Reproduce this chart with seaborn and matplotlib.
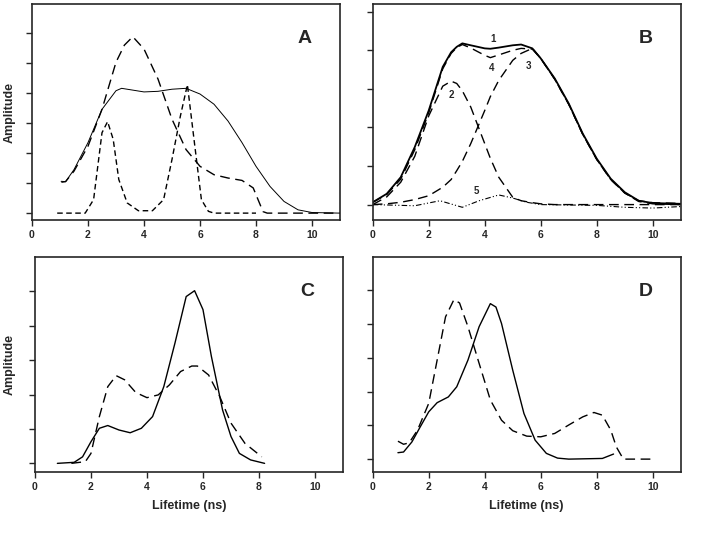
import numpy as np
import pandas as pd
import matplotlib
matplotlib.use("Agg")
import matplotlib.pyplot as plt
import seaborn as sns

# Panel A
a_solid_x = [1.04, 1.2, 1.5, 2.0, 2.5, 3.0, 3.2, 3.6, 4.0, 4.5, 5.0, 5.5, 6.0, 6.5, 7.0, 7.5, 8.0, 8.5, 9.0, 9.5, 10.0, 11.0]
a_solid_y = [1.06, 1.05, 1.45, 2.35, 3.46, 4.08, 4.16, 4.1, 4.04, 4.06, 4.13, 4.16, 3.97, 3.63, 3.07, 2.35, 1.56, 0.89, 0.39, 0.11, 0.02, 0.0]
a_long_x = [1.05, 1.2, 1.5, 2.0, 2.5, 3.0, 3.3, 3.6, 4.0, 4.5, 5.0, 5.5, 6.0, 6.5, 7.0, 7.5, 7.9, 8.25, 8.4, 11.0]
a_long_y = [1.03, 1.05, 1.4, 2.23, 3.46, 5.03, 5.6, 5.88, 5.47, 4.47, 3.13, 2.12, 1.56, 1.28, 1.17, 1.09, 0.84, 0.05, 0.0, 0.0]
a_short_x = [0.9, 1.9, 2.2, 2.5, 2.7, 2.9, 3.1, 3.4, 3.8, 4.3, 4.7, 5.0, 5.3, 5.55, 5.8, 6.05, 6.3, 6.5, 8.0]
a_short_y = [0.0, 0.0, 0.45, 2.68, 3.05, 2.46, 1.12, 0.34, 0.08, 0.08, 0.45, 1.79, 3.24, 4.28, 2.35, 0.45, 0.06, 0.0, 0.0]

# Panel B
b_x = [0.0, 0.5, 1.0, 1.5, 2.0, 2.5, 2.8, 3.0, 3.2, 3.5, 4.0, 4.2, 4.5, 5.0, 5.3, 5.7, 6.0, 6.5, 7.0, 7.5, 8.0, 8.5, 9.0, 9.5, 10.0, 11.0]
b_sum_y = [0.06, 0.28, 0.71, 1.49, 2.44, 3.57, 3.95, 4.09, 4.18, 4.13, 4.05, 4.04, 4.07, 4.13, 4.15, 4.05, 3.79, 3.27, 2.62, 1.84, 1.19, 0.67, 0.32, 0.10, 0.04, 0.02]
b_fit_y = [0.06, 0.26, 0.66, 1.42, 2.38, 3.52, 3.92, 4.07, 4.15, 4.06, 3.87, 3.81, 3.88, 4.0, 4.05, 4.03, 3.79, 3.25, 2.6, 1.82, 1.17, 0.65, 0.3, 0.08, 0.02, 0.0]
b_c2_y = [0.0, 0.2, 0.58, 1.25, 2.3, 3.07, 3.2, 3.14, 2.95, 2.53, 1.58, 1.2, 0.71, 0.19, 0.1, 0.05, 0.02, 0.0, 0.0, 0.0, 0.0, 0.0, 0.0, 0.0, 0.0, 0.0]
b_c3_y = [0.0, 0.02, 0.06, 0.13, 0.23, 0.45, 0.65, 0.88, 1.12, 1.58, 2.44, 2.8, 3.22, 3.74, 3.92, 4.05, 3.79, 3.25, 2.6, 1.82, 1.17, 0.65, 0.3, 0.1, 0.05, 0.03]
b_c5_x = [0.0, 1.5, 2.4, 3.2, 3.8, 4.5, 5.0, 5.5, 6.0, 8.0, 9.0, 10.0, 11.0]
b_c5_y = [0.0, -0.03, 0.1, -0.07, 0.1, 0.25, 0.17, 0.06, 0.0, -0.02, -0.07, -0.09, -0.05]
b_labels = ["1", "4", "3", "2", "5"]
b_label_x = [4.3, 4.26, 5.55, 2.8, 3.69]
b_label_y = [4.3, 3.54, 3.59, 2.85, 0.35]

# Panel C
c_solid_x = [0.8, 1.4, 1.7, 2.0, 2.3, 2.6, 3.0, 3.4, 3.8, 4.2, 4.6, 5.0, 5.4, 5.7, 6.0, 6.3, 6.7, 7.0, 7.3, 7.7, 8.2]
c_solid_y = [0.0, 0.03, 0.19, 0.63, 1.02, 1.1, 0.97, 0.89, 1.02, 1.36, 2.23, 3.5, 4.85, 5.02, 4.47, 3.11, 1.55, 0.78, 0.29, 0.1, 0.0]
c_dash_x = [1.3, 1.8, 2.0, 2.3, 2.6, 2.9, 3.2, 3.6, 4.0, 4.4, 4.8, 5.2, 5.6, 5.8, 6.2, 6.6, 7.0, 7.5, 8.1]
c_dash_y = [0.0, 0.05, 0.29, 1.36, 2.23, 2.55, 2.43, 2.06, 1.91, 1.99, 2.28, 2.67, 2.83, 2.83, 2.57, 1.94, 1.17, 0.58, 0.19]

# Panel D
d_solid_x = [0.9, 1.1, 1.4, 1.7, 2.0, 2.3, 2.7, 3.0, 3.4, 3.8, 4.2, 4.4, 4.6, 5.0, 5.4, 5.8, 6.2, 6.6, 7.0, 8.2, 8.6]
d_solid_y = [0.19, 0.21, 0.51, 0.96, 1.4, 1.67, 1.84, 2.14, 2.93, 3.92, 4.6, 4.5, 4.01, 2.63, 1.35, 0.56, 0.17, 0.03, 0.0, 0.02, 0.15]
d_dash_x = [0.9, 1.1, 1.3, 1.6, 2.0, 2.3, 2.6, 2.9, 3.1, 3.4, 3.8, 4.2, 4.6, 5.0, 5.5, 6.0, 6.5, 7.0, 7.5, 7.9, 8.2, 8.5, 8.7, 8.95, 10.0]
d_dash_y = [0.53, 0.44, 0.48, 0.86, 1.65, 2.93, 4.21, 4.72, 4.62, 3.92, 2.83, 1.75, 1.15, 0.84, 0.68, 0.66, 0.76, 1.01, 1.25, 1.38, 1.3, 0.86, 0.36, 0.0, 0.0]

sns.set_style("ticks")
plt.rcParams['font.family'] = ['Liberation Sans', 'DejaVu Sans']

fig = plt.figure(figsize=(7.27, 5.43), dpi=100)
axA = fig.add_axes([0.044, 0.5948, 0.4237, 0.3978])
axB = fig.add_axes([0.5127, 0.5948, 0.4237, 0.3978])
axC = fig.add_axes([0.0481, 0.1302, 0.4237, 0.3965])
axD = fig.add_axes([0.5127, 0.1302, 0.4237, 0.3965])

LONG = (0, (7, 4))
SHORT = (0, (4, 2.5))


def curve(ax, x, y, ls, lw=1.0):
    sns.lineplot(x=x, y=y, ax=ax, color="black", linewidth=lw, sort=False)
    ax.lines[-1].set_linestyle(ls)


curve(axA, a_solid_x, a_solid_y, "-", 0.7)
curve(axA, a_long_x, a_long_y, LONG)
curve(axA, a_short_x, a_short_y, SHORT)

curve(axB, b_x, b_sum_y, "-", 1.3)
curve(axB, b_x, b_fit_y, LONG)
curve(axB, b_x, b_c2_y, LONG)
curve(axB, b_x, b_c3_y, LONG)
curve(axB, b_c5_x, b_c5_y, (0, (5, 2, 1, 2, 1, 2)), 0.8)
for t, lx, ly in zip(b_labels, b_label_x, b_label_y):
    axB.text(lx, ly, t, fontsize=7, fontweight="bold", ha="center", va="center")

curve(axC, c_solid_x, c_solid_y, "-", 1.0)
curve(axC, c_dash_x, c_dash_y, LONG)

curve(axD, d_solid_x, d_solid_y, "-", 1.0)
curve(axD, d_dash_x, d_dash_y, LONG)

limits = {axA: (-0.23, 6.97, 7), axB: (-0.4, 5.2, 6), axC: (-0.26, 6.0, 6), axD: (-0.39, 5.98, 6)}
letters = {axA: "A", axB: "B", axC: "C", axD: "D"}
for ax, (lo, hi, n) in limits.items():
    ax.set_xlim(0, 11)
    ax.set_ylim(lo, hi)
    ax.set_xticks([0, 2, 4, 6, 8, 10])
    ax.set_xticklabels(["0", "2", "4", "6", "8", "10"], fontsize=7.5, fontweight="bold")
    ax.set_yticks(range(n))
    ax.set_yticklabels([])
    ax.tick_params(direction="out", length=4, width=1, pad=3)
    for s in ax.spines.values():
        s.set_linewidth(1.2)
        s.set_visible(True)
    ax.text(0.885, 0.84, letters[ax], transform=ax.transAxes, fontsize=14,
            fontweight="bold", ha="center", va="center")
    ax.set_xlabel("")
    ax.set_ylabel("")

for ax, px in [(axA, 32), (axC, 35)]:
    ax.set_ylabel("Amplitude", fontsize=9, fontweight="bold")
    ax.yaxis.label.set_va("center")
    ax.yaxis.set_label_coords((10 - px) / 308, 0.5)
axC.set_xlabel("Lifetime (ns)", fontsize=9, fontweight="bold", labelpad=6)
axD.set_xlabel("Lifetime (ns)", fontsize=9, fontweight="bold", labelpad=6)

fig.savefig("out.png", dpi=100)
